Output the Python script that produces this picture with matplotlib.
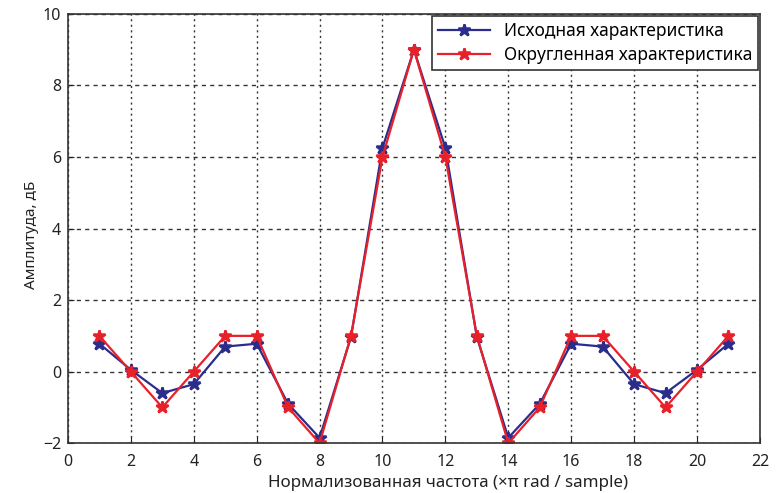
import matplotlib.pyplot as plt

plt.rcParams['font.family'] = ['Noto Sans', 'DejaVu Sans']

freq = list(range(1, 22))
# исходная характеристика
orig = [0.78, 0.05, -0.6, -0.35, 0.7, 0.78, -0.9, -1.85, 0.97, 6.25, 9.0,
        6.25, 0.97, -1.85, -0.9, 0.78, 0.7, -0.35, -0.6, 0.05, 0.78]
# округленная характеристика
rounded = [1, 0, -1, 0, 1, 1, -1, -2, 1, 6, 9,
           6, 1, -2, -1, 1, 1, 0, -1, 0, 1]

fig = plt.figure(figsize=(7.81, 4.93), dpi=100)
ax = fig.add_axes([0.087, 0.101, 0.886, 0.871])

ax.plot(freq, orig, '-*', color='#2a2d8c', lw=1.6, ms=9, mew=1.8,
        label='Исходная характеристика')
ax.plot(freq, rounded, '-*', color='#e8202a', lw=1.6, ms=9, mew=1.8,
        label='Округленная характеристика')

ax.set_xlim(0, 22)
ax.set_ylim(-2, 10)
ax.set_xticks(range(0, 23, 2))
ax.set_yticks(range(-2, 11, 2))
ax.xaxis.grid(True, color='#333333', linestyle=(0, (1.5, 2.5)), lw=1.0)
ax.yaxis.grid(True, color='#333333', linestyle=(0, (3, 3)), lw=1.0)
ax.tick_params(direction='in', labelsize=11.5, length=4, colors='#222222')
ax.tick_params(axis='x', pad=8)
ax.tick_params(axis='y', pad=5)
for sp in ax.spines.values():
    sp.set_color('#333333')
    sp.set_linewidth(1.2)

ax.set_xlabel('Нормализованная частота (×π rad / sample)', fontsize=12.2,
              color='#222222', labelpad=1)
ax.xaxis.set_label_coords(0.549, -0.075)
ax.set_ylabel('Амплитуда, дБ', fontsize=11, color='#222222')
ax.yaxis.set_label_coords(-0.042, 0.485)

leg = ax.legend(loc='upper right', fontsize=12.5, fancybox=False,
                borderaxespad=0.1, handlelength=3.0, framealpha=1,
                edgecolor='#333333', labelspacing=0.35, borderpad=0.35)
leg.get_frame().set_linewidth(1.2)

fig.savefig('out.png', dpi=100)
